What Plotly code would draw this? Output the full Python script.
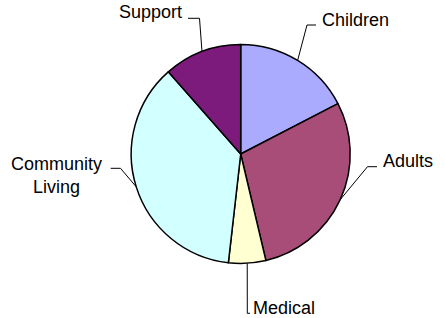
import math
import plotly.graph_objects as go

categories = ["Children", "Adults", "Medical", "Community Living", "Support"]
values = [17.4, 28.9, 5.5, 36.7, 11.5]
colors = ["#AAAAFF", "#A84C78", "#FFFFD2", "#D2FFFF", "#7D1B7D"]
label_text = ["Children", "Adults", "Medical", "Community<br>Living", "Support"]

W, H = 445, 318
CX, CY, R = 240.7, 154.0, 109.5

def px(x):
    return x / W

def py(y):
    return 1 - y / H

fig = go.Figure(go.Pie(
    labels=categories, values=values, sort=False, direction="clockwise",
    rotation=0, textinfo="none", hoverinfo="label+value",
    marker=dict(colors=colors, line=dict(color="black", width=1.5)),
    domain=dict(x=[px(CX - R), px(CX + R)], y=[py(CY + R), py(CY - R)]),
    showlegend=False,
))

# label positions (text anchor) and elbow points for leader lines
label_pos = [
    (320, 19.5, "left"),
    (380.5, 161, "left"),
    (251, 308.3, "left"),
    (56.2, 175, "center"),
    (184, 11.7, "right"),
]
elbows = [
    [(316, 25), (307, 25)],
    [(377, 166.7), (367.5, 166.7)],
    [(250, 313.3), (247.3, 313.3)],
    [(110.7, 168.3), (120.5, 168.3)],
    [(188, 18.3), (199.5, 18.3)],
]

total = sum(values)
cum = 0
shapes = []
annotations = []
for i, v in enumerate(values):
    mid = (cum + v / 2) / total * 2 * math.pi
    cum += v
    ax = CX + R * math.sin(mid)
    ay = CY - R * math.cos(mid)
    pts = elbows[i] + [(ax, ay)]
    path = "M " + " L ".join(f"{px(x)},{py(y)}" for x, y in pts)
    shapes.append(dict(type="path", xref="paper", yref="paper", path=path,
                       line=dict(color="black", width=1)))
    lx, ly, anc = label_pos[i]
    annotations.append(dict(x=px(lx), y=py(ly), xref="paper", yref="paper",
                            text=label_text[i], showarrow=False, xanchor=anc,
                            yanchor="middle", align="center",
                            font=dict(family="Liberation Sans, Arial", size=18, color="black")))

fig.update_layout(width=W, height=H, margin=dict(l=0, r=0, t=0, b=0),
                  paper_bgcolor="white", plot_bgcolor="white",
                  shapes=shapes, annotations=annotations)
fig.write_html("out.html", config={"displayModeBar": False},
               post_script="document.body.style.margin='0';document.body.style.overflow='hidden';")
